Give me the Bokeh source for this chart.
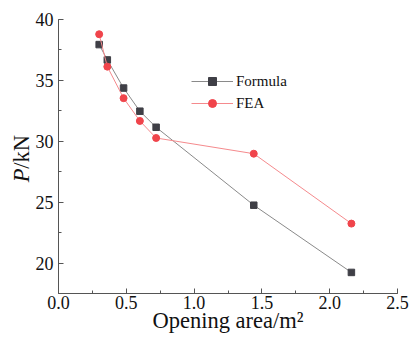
from bokeh.embed import file_html
from bokeh.layouts import row
from bokeh.models import (ColumnDataSource, Label, Legend, LegendItem,
                          NumeralTickFormatter, Range1d, SingleIntervalTicker)
from bokeh.plotting import figure
from bokeh.resources import INLINE
import math

# Opening area (m^2) and load capacity (kN)
area = [0.30, 0.36, 0.48, 0.60, 0.72, 1.44, 2.16]
p_formula = [37.94, 36.68, 34.37, 32.47, 31.15, 24.75, 19.23]
p_fea = [38.79, 36.13, 33.54, 31.67, 30.27, 28.98, 23.24]

FONT = "Liberation Serif"
TITLE_SIZE = "22.5px"
GRAY_MARK = "#3f3f46"
GRAY_LINE = "#8a8a8a"
RED_MARK = "#f0444b"
RED_LINE = "#f58a8d"
AXIS = "#555555"
TITLE_W = 32
W, H = 410, 338
FRAME_BOTTOM = 293  # pixel row of the plot frame's bottom edge

# Narrow strip on the left (no axes) that carries the y title:
# italic P followed by upright /kN.  The row aligns this strip's frame
# with the main frame, so screen y is measured up from FRAME_BOTTOM.
ytitle = figure(width=TITLE_W, height=H, output_backend="svg",
                toolbar_location=None, x_range=Range1d(0, TITLE_W),
                y_range=Range1d(0, H), min_border=0,
                x_axis_location=None, y_axis_location=None)
ytitle.grid.visible = False
ytitle.outline_line_color = None
ytitle.add_layout(Label(x=20.5, y=FRAME_BOTTOM - 175, x_units="screen",
                        y_units="screen", text="P", angle=math.pi / 2,
                        text_font=FONT, text_font_size=TITLE_SIZE,
                        text_font_style="italic", text_color="#111111",
                        text_align="center", text_baseline="middle"))
ytitle.add_layout(Label(x=20.5, y=FRAME_BOTTOM - 151.4, x_units="screen",
                        y_units="screen", text="/kN", angle=math.pi / 2,
                        text_font=FONT, text_font_size=TITLE_SIZE,
                        text_color="#111111", text_align="center",
                        text_baseline="middle"))

p = figure(width=W - TITLE_W, height=H, output_backend="svg",
           toolbar_location=None,
           x_range=Range1d(0, 2.5), y_range=Range1d(17.5, 40),
           min_border_left=57 - TITLE_W, min_border_right=13, min_border_top=19,
           min_border_bottom=45)
p.outline_line_color = None
p.grid.visible = False

src_f = ColumnDataSource(dict(x=area, y=p_formula))
src_e = ColumnDataSource(dict(x=area, y=p_fea))

lf = p.line("x", "y", source=src_f, line_color=GRAY_LINE, line_width=1)
mf = p.scatter("x", "y", source=src_f, marker="square", size=6.5,
               fill_color=GRAY_MARK, line_color=GRAY_MARK)
le = p.line("x", "y", source=src_e, line_color=RED_LINE, line_width=1)
me = p.scatter("x", "y", source=src_e, marker="circle", size=7,
               fill_color=RED_MARK, line_color=RED_MARK)

for ax, step in ((p.xaxis[0], 0.5), (p.yaxis[0], 5)):
    ax.ticker = SingleIntervalTicker(interval=step, num_minor_ticks=2)
    ax.axis_line_color = AXIS
    ax.major_tick_line_color = AXIS
    ax.minor_tick_line_color = AXIS
    ax.major_tick_in = 5
    ax.major_tick_out = 0
    ax.minor_tick_in = 3
    ax.minor_tick_out = 0
    ax.major_label_text_font = FONT
    ax.major_label_text_font_size = "18px"
    ax.major_label_text_color = "#111111"

p.xaxis[0].major_label_standoff = 2
p.yaxis[0].major_label_standoff = 5
p.xaxis[0].formatter = NumeralTickFormatter(format="0.0")
p.yaxis[0].formatter = NumeralTickFormatter(format="0")

p.xaxis[0].axis_label = "Opening area/m\u00b2"
p.xaxis[0].axis_label_text_font = FONT
p.xaxis[0].axis_label_text_font_size = TITLE_SIZE
p.xaxis[0].axis_label_text_font_style = "normal"
p.xaxis[0].axis_label_text_color = "#111111"
p.xaxis[0].axis_label_standoff = -4

legend = Legend(items=[LegendItem(label="Formula", renderers=[lf, mf]),
                       LegendItem(label="FEA", renderers=[le, me])],
                location=(133, 180), glyph_width=42, glyph_height=20,
                label_height=20, spacing=2, padding=0, margin=0,
                label_standoff=3, border_line_color=None,
                background_fill_alpha=0,
                label_text_font=FONT, label_text_font_size="15px",
                label_text_color="#111111")
p.add_layout(legend)

open("out.html", "w").write(file_html(row(ytitle, p), INLINE))
